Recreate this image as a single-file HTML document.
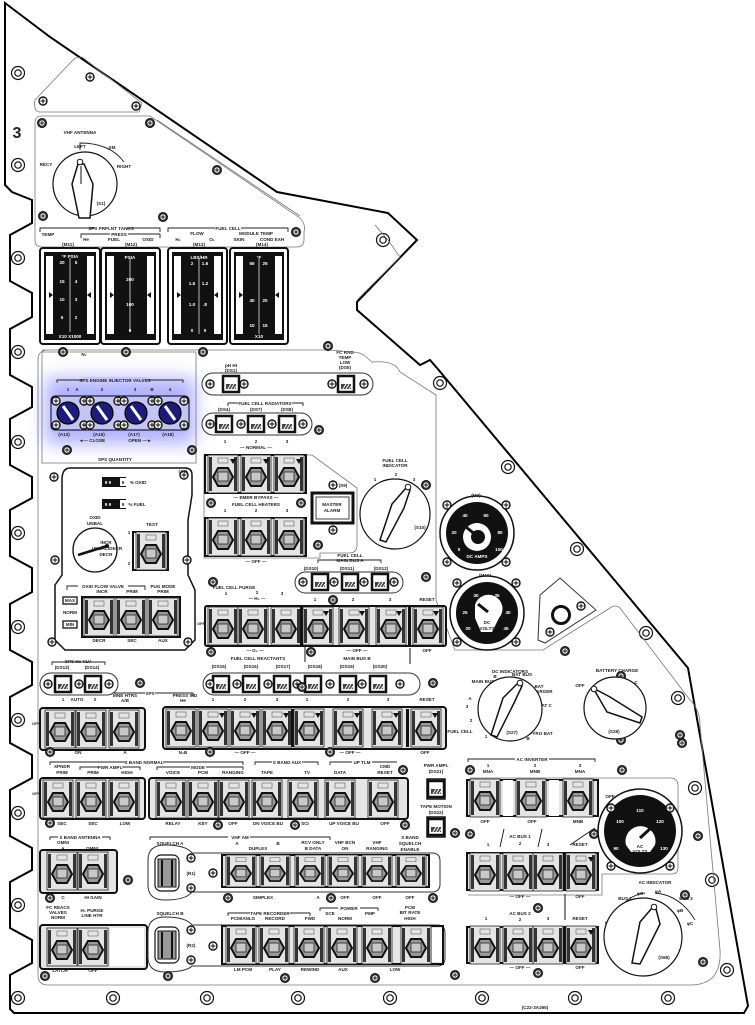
<!DOCTYPE html>
<html><head><meta charset="utf-8"><style>
html,body{margin:0;padding:0;background:#fff}
svg{display:block}
text{font-family:"Liberation Sans",sans-serif;font-size:4.6px;font-weight:bold;fill:#222;text-anchor:middle}
.w{fill:#fff}
.big{font-size:16px}
.thin{fill:none;stroke:#777;stroke-width:0.8}
.ln{fill:none;stroke:#222;stroke-width:0.9}
</style></head><body>
<svg width="755" height="1025" viewBox="0 0 755 1025" xmlns="http://www.w3.org/2000/svg">
<defs>
<filter id="blur" x="-30%" y="-30%" width="160%" height="160%"><feGaussianBlur stdDeviation="9"/></filter>
<g id="sw"><rect x="0" y="0" width="30" height="38" fill="#e4e4e4" stroke="#222" stroke-width="0.8"/><rect x="1" y="2" width="3" height="34" fill="#333"/><rect x="26" y="2" width="3" height="34" fill="#333"/><polygon points="5,22 10,13 20,13 25,22 20,31 10,31" fill="#9a9a9a" stroke="#111" stroke-width="2"/><rect x="10" y="17" width="10" height="9" fill="#c8c8c8" stroke="#222" stroke-width="0.8"/><rect x="10" y="3" width="10" height="5" fill="none" stroke="#444" stroke-width="0.5"/></g>
<g id="ds"><rect x="0" y="0" width="16" height="16" fill="#fff" stroke="#111" stroke-width="2.5"/><rect x="3" y="8" width="10" height="5" fill="#444"/><path d="M5,13 L8,8 M8,13 L11,8 M11,13 L13,10" stroke="#fff" stroke-width="1"/></g>
<g id="sc"><circle r="4" fill="#fff" stroke="#111" stroke-width="1.4"/><path d="M-2.5,0H2.5M0,-2.5V2.5" stroke="#111" stroke-width="1"/></g>
<g id="sd"><circle r="4.5" fill="#333" stroke="#111" stroke-width="1"/><circle r="2.6" fill="#fff"/><path d="M-2,0H2M0,-2V2" stroke="#111" stroke-width="0.9"/></g>
<g id="ho"><circle r="6.5" fill="#fff" stroke="#111" stroke-width="1.2"/><circle r="3.2" fill="none" stroke="#111" stroke-width="1.2"/></g>
<g id="tri"><polygon points="0,0 6,0 3,5" fill="#111"/></g>
</defs>

<!-- outer outline -->
<path d="M5,3 L50,37 L277,192 L388,213 L417,240 L357,302 L357,310 L420,365 L430,360 L437,368 L688,668 L748,1006 L744,1013 L14,1013 L10,1009 L10,1021 
M10,1009 L10,1020" fill="none" stroke="#000" stroke-width="0"/>
<path d="M5,3 L50,37 L277,192 L388,213 L417,240 L357,302 L357,310 L420,365 L430,360 L437,368 L688,668 L748,1006 L744,1013 L14,1013 L10,1009 L10,975 L32,963 L32,940 L10,928 L10,882 L32,870 L32,848 L10,836 L10,790 L32,778 L32,755 L10,743 L10,697 L32,685 L32,662 L10,650 L10,604 L32,592 L32,568 L10,556 L10,510 L32,498 L32,477 L10,465 L10,419 L32,407 L32,387 L10,375 L10,329 L32,317 L32,293 L10,281 L10,235 L32,223 L32,200 L12,192 L5,185 Z" fill="#fff" stroke="#000" stroke-width="2"/>

<!-- left holes -->
<use href="#ho" x="18" y="73"/><use href="#ho" x="18" y="165"/><use href="#ho" x="18" y="258"/><use href="#ho" x="18" y="352"/><use href="#ho" x="18" y="442"/><use href="#ho" x="18" y="533"/><use href="#ho" x="18" y="627"/><use href="#ho" x="18" y="720"/><use href="#ho" x="18" y="813"/><use href="#ho" x="18" y="905"/><use href="#ho" x="18" y="998"/>
<use href="#ho" x="113" y="998"/><use href="#ho" x="207" y="998"/><use href="#ho" x="298" y="998"/><use href="#ho" x="390" y="998"/><use href="#ho" x="482" y="998"/><use href="#ho" x="575" y="998"/><use href="#ho" x="668" y="998"/>
<use href="#ho" x="727" y="970"/><use href="#ho" x="712" y="880"/><use href="#ho" x="695" y="788"/><use href="#ho" x="678" y="698"/>
<use href="#ho" x="646" y="633"/><use href="#ho" x="577" y="549"/><use href="#ho" x="508" y="467"/><use href="#ho" x="440" y="383"/><use href="#ho" x="383" y="240"/>

<!-- top plates -->
<text x="17" y="138" class="big" style="font-size:16px">3</text>
<path d="M35,100 L75,58 L82,57 L142,103 L139,112 L40,112 Q33,112 35,100Z" class="thin" stroke="#555"/>
<use href="#sc" x="43" y="101"/><use href="#sc" x="90" y="77"/><use href="#sc" x="136" y="106"/>
<path d="M42,116 H150 L300,218 Q306,224 304,232 V240 Q304,247 296,247 H42 Q35,247 35,240 V123 Q35,116 42,116Z" class="thin" stroke="#444"/>
<path d="M157,120 L300,216" class="thin"/>
<path d="M357,300 L400,257 L388,240 L375,225" class="thin"/>
<use href="#sd" x="42" y="123"/><use href="#sd" x="150" y="123"/><use href="#sd" x="217" y="170"/><use href="#sd" x="43" y="216"/><use href="#sd" x="163" y="217"/><use href="#sd" x="296" y="232"/>
<text x="80" y="134">VHF ANTENNA</text>
<text x="80" y="148">LEFT</text><text x="112" y="149">SM</text><text x="124" y="168">RIGHT</text><text x="46" y="166">RECY</text>
<path d="M80,150 V143 Q110,143 124,162" class="ln"/>
<circle cx="85" cy="184" r="32" fill="#fff" stroke="#111" stroke-width="1.2"/>
<polygon points="78,164 72,184 79,218 90,218 93,184 84,164" fill="#fff" stroke="#111" stroke-width="1.5"/>
<line x1="81" y1="166" x2="81" y2="184" stroke="#111"/><circle cx="80" cy="162" r="2.8" fill="#fff" stroke="#111"/>
<text x="101" y="205">(S1)</text>
<path d="M40,232 V228 H160 V232 M81,238 V234 H160 V238 M168,232 V228 H288 V232" class="ln"/>
<rect x="95" y="225" width="32" height="5" fill="#fff"/><text x="111" y="230">SPS PRPLNT TANKS</text>
<rect x="110" y="231" width="18" height="5" fill="#fff"/><text x="119" y="236">PRESS</text>
<rect x="215" y="225" width="26" height="5" fill="#fff"/><text x="228" y="230">FUEL CELL</text>
<text x="48" y="236">TEMP</text><text x="86" y="241">He</text><text x="114" y="241">FUEL</text><text x="148" y="241">OXID</text>
<text x="197" y="235">FLOW</text><text x="256" y="235">MODULE TEMP</text>
<text x="178" y="241">H₂</text><text x="212" y="241">O₂</text><text x="239" y="241">SKIN</text><text x="272" y="241">COND EXH</text>
<text x="68" y="246">(M11)</text><text x="131" y="246">(M12)</text><text x="199" y="246">(M13)</text><text x="262" y="246">(M14)</text>

<!-- meters -->
<g>
<rect x="40" y="248" width="60" height="96" rx="3" fill="#fff" stroke="#111" stroke-width="2"/><rect x="44" y="252" width="52" height="88" fill="#111"/><rect x="46" y="256" width="7" height="78" fill="#fff"/><rect x="87" y="256" width="7" height="78" fill="#fff"/><line x1="70" y1="258" x2="70" y2="332" stroke="#fff" stroke-width="0.7"/>
<rect x="101" y="248" width="59" height="96" rx="3" fill="#fff" stroke="#111" stroke-width="2"/><rect x="105" y="252" width="51" height="88" fill="#111"/><rect x="107" y="256" width="7" height="78" fill="#fff"/><rect x="147" y="256" width="7" height="78" fill="#fff"/><line x1="130" y1="258" x2="130" y2="332" stroke="#fff" stroke-width="0.7"/>
<rect x="168" y="248" width="59" height="96" rx="3" fill="#fff" stroke="#111" stroke-width="2"/><rect x="172" y="252" width="51" height="88" fill="#111"/><rect x="174" y="256" width="7" height="78" fill="#fff"/><rect x="214" y="256" width="7" height="78" fill="#fff"/><line x1="199" y1="258" x2="199" y2="334" stroke="#fff" stroke-width="0.7"/>
<rect x="230" y="248" width="58" height="96" rx="3" fill="#fff" stroke="#111" stroke-width="2"/><rect x="234" y="252" width="50" height="88" fill="#111"/><rect x="236" y="256" width="7" height="78" fill="#fff"/><rect x="275" y="256" width="7" height="78" fill="#fff"/><line x1="259" y1="258" x2="259" y2="334" stroke="#fff" stroke-width="0.7"/>
<polygon points="53,295 49,292 49,298" fill="#111"/><polygon points="87,295 91,292 91,298" fill="#111"/>
<polygon points="114,295 110,292 110,298" fill="#111"/><polygon points="147,295 151,292 151,298" fill="#111"/>
<polygon points="181,295 177,292 177,298" fill="#111"/><polygon points="214,295 218,292 218,298" fill="#111"/>
<polygon points="243,295 239,292 239,298" fill="#111"/><polygon points="275,295 279,292 279,298" fill="#111"/>
<text class="w" x="70" y="258">°F  PSIA</text><text class="w" x="62" y="264">20</text><text class="w" x="76" y="264">5</text><text class="w" x="62" y="283">15</text><text class="w" x="76" y="283">4</text><text class="w" x="62" y="301">10</text><text class="w" x="76" y="301">3</text><text class="w" x="62" y="319">5</text><text class="w" x="76" y="319">2</text><text class="w" x="70" y="338">X10 X1000</text>
<text class="w" x="130" y="259">PSIA</text><text class="w" x="130" y="281">200</text><text class="w" x="130" y="306">100</text><text class="w" x="130" y="332">0</text>
<text class="w" x="199" y="259">LBS/HR</text><text class="w" x="192" y="265">2</text><text class="w" x="205" y="265">1.6</text><text class="w" x="192" y="285">1.5</text><text class="w" x="205" y="285">1.2</text><text class="w" x="192" y="306">1.0</text><text class="w" x="205" y="306">.8</text><text class="w" x="192" y="332">0</text><text class="w" x="205" y="332">0</text>
<text class="w" x="259" y="259">°F</text><text class="w" x="252" y="265">55</text><text class="w" x="265" y="265">25</text><text class="w" x="252" y="302">40</text><text class="w" x="265" y="302">20</text><text class="w" x="252" y="327">10</text><text class="w" x="265" y="327">15</text><text class="w" x="259" y="338">X10</text>
</g>

<!-- central panel borders -->
<path d="M42,350 H330 L352,352 Q360,352 365,356 L372,362 Q395,360 400,372 L436,395 V600 L455,650 H543 L610,608 Q615,604 620,608 L690,700 Q700,710 700,725 L720,950 Q722,985 690,985 H48 Q38,985 38,975 V360 Q38,350 48,350" class="thin"/>
<path d="M42,352 H196 V463 H42 Z" class="thin" stroke="#aaa"/>
<text x="84" y="356">N₂</text>
<use href="#sd" x="63" y="352"/><use href="#sd" x="126" y="352"/><use href="#sd" x="203" y="352"/><use href="#sd" x="328" y="346"/>
<!-- injector valves glow -->
<rect x="45" y="378" width="150" height="66" fill="#7070ff" opacity="0.55" filter="url(#blur)"/>
<path d="M57,383 V380 H183 V383" class="ln"/><rect x="83" y="377" width="64" height="6" fill="#c8c8ff"/>
<text x="115" y="382">SPS ENGINE INJECTOR VALVES</text>
<text x="68" y="391">1</text><text x="77" y="391">A</text><text x="102" y="391">2</text><text x="135" y="391">3</text><text x="152" y="391">B</text><text x="170" y="391">4</text>
<rect x="51" y="396" width="138" height="34" rx="4" fill="#c4c4f4" stroke="#224" stroke-width="1.2"/>
<g fill="#1c1c7a" stroke="#000" stroke-width="1.2">
<circle cx="68" cy="413" r="11"/><circle cx="102" cy="413" r="11"/><circle cx="136" cy="413" r="11"/><circle cx="170" cy="413" r="11"/></g>
<g stroke="#fff" stroke-width="3"><line x1="63" y1="406" x2="73" y2="420"/><line x1="97" y1="406" x2="107" y2="420"/><line x1="131" y1="406" x2="141" y2="420"/><line x1="165" y1="406" x2="175" y2="420"/></g>
<g><use href="#sc" x="56" y="401"/><use href="#sc" x="84" y="401"/><use href="#sc" x="90" y="401"/><use href="#sc" x="118" y="401"/><use href="#sc" x="124" y="401"/><use href="#sc" x="152" y="401"/><use href="#sc" x="158" y="401"/><use href="#sc" x="184" y="401"/>
<use href="#sc" x="56" y="425"/><use href="#sc" x="84" y="425"/><use href="#sc" x="90" y="425"/><use href="#sc" x="118" y="425"/><use href="#sc" x="124" y="425"/><use href="#sc" x="152" y="425"/><use href="#sc" x="158" y="425"/><use href="#sc" x="184" y="425"/></g>
<text x="64" y="436">(A13)</text><text x="99" y="436">(A15)</text><text x="134" y="436">(A17)</text><text x="168" y="436">(A18)</text>
<text x="92" y="442">◄— CLOSE</text><text x="140" y="442">OPEN —►</text>
<use href="#sd" x="67" y="450"/><use href="#sd" x="192" y="450"/>
<text x="115" y="461">SPS QUANTITY</text>

<!-- SPS quantity panel -->
<path d="M70,468 H185 Q192,468 192,475 V495 L188,520 V575 L195,590 V640 L185,650 H65 L55,640 V585 L62,575 V480 Q62,468 70,468Z" fill="#fff" stroke="#111" stroke-width="1.5"/>
<use href="#sc" x="54" y="477"/><use href="#sc" x="184" y="475"/><use href="#sc" x="55" y="560"/><use href="#sc" x="187" y="560"/><use href="#sc" x="52" y="642"/><use href="#sc" x="188" y="642"/>
<text x="183" y="473">(A1)</text>
<rect x="102" y="477" width="24" height="10" fill="#111"/><rect x="120" y="478" width="6" height="8" fill="#fff"/><text x="108" y="484" class="w">9 9</text><text x="123" y="484">9</text><text x="138" y="484">% OXID</text>
<rect x="102" y="499" width="24" height="10" fill="#111"/><rect x="120" y="500" width="6" height="8" fill="#fff"/><text x="108" y="506" class="w">9 9</text><text x="123" y="506">9</text><text x="137" y="506">% FUEL</text>
<text x="95" y="519">OXID</text><text x="95" y="525">UNBAL</text>
<circle cx="95" cy="550" r="22" fill="#fff" stroke="#111" stroke-width="1.3"/>
<line x1="78" y1="555" x2="107" y2="546" stroke="#111" stroke-width="2.5"/><circle cx="107" cy="546" r="2" fill="#111"/>
<text x="106" y="544">INCR</text><text x="107" y="550">UNBAL/DECR</text><text x="106" y="556">DECR</text>
<text x="152" y="526">TEST</text><text x="129" y="534">1</text><text x="129" y="565">2</text>
<rect x="133" y="532" width="35" height="38" fill="#fff" stroke="#111" stroke-width="2"/><use href="#sw" x="136" y="532"/>
<path d="M67,590 V586 H145 V590" class="ln"/><rect x="78" y="583" width="50" height="6" fill="#fff"/><text x="103" y="588">OXID FLOW VALVE</text>
<text x="102" y="593">INCR</text><text x="132" y="593">PRIM</text><text x="163" y="588">PUG MODE</text><text x="163" y="593">PRIM</text>
<rect x="63" y="597" width="14" height="7" fill="#fff" stroke="#111" stroke-width="1.3"/><text x="70" y="602">MAX</text>
<text x="70" y="614">NORM</text>
<rect x="63" y="621" width="14" height="7" fill="#fff" stroke="#111" stroke-width="1.3"/><text x="70" y="626">MIN</text>
<rect x="82" y="597" width="98" height="40" fill="#e4e4e4" stroke="#111" stroke-width="2"/>
<use href="#sw" x="84" y="598"/><use href="#sw" x="116" y="598"/><use href="#sw" x="148" y="598"/>
<text x="99" y="642">DECR</text><text x="132" y="642">SEC</text><text x="163" y="642">AUX</text>

<!-- DS bars top -->
<text x="231" y="367">pH HI</text><text x="231" y="372">(DS1)</text>
<text x="345" y="354">FC RAD</text><text x="345" y="359">TEMP</text><text x="345" y="364">LOW</text><text x="345" y="369">(DS5)</text>
<rect x="202" y="373" width="171" height="22" rx="11" fill="#fff" stroke="#333" stroke-width="1"/>
<use href="#ds" x="223" y="376"/><use href="#sc" x="210" y="384"/><use href="#sc" x="244" y="384"/><use href="#ds" x="338" y="376"/><use href="#sc" x="332" y="384"/><use href="#sc" x="364" y="384"/>
<path d="M228,406 V403 H303 V406" class="ln"/><rect x="238" y="400" width="54" height="6" fill="#fff"/><text x="265" y="405">FUEL CELL RADIATORS</text>
<text x="224" y="411">(DS4)</text><text x="256" y="411">(DS7)</text><text x="287" y="411">(DS8)</text>
<rect x="202" y="413" width="110" height="22" rx="11" fill="#fff" stroke="#333" stroke-width="1"/>
<use href="#ds" x="216" y="416"/><use href="#ds" x="248" y="416"/><use href="#ds" x="279" y="416"/>
<use href="#sc" x="210" y="424"/><use href="#sc" x="241" y="424"/><use href="#sc" x="272" y="424"/><use href="#sc" x="303" y="424"/>
<use href="#sd" x="319" y="430"/>
<text x="225" y="443">1</text><text x="256" y="443">2</text><text x="287" y="443">3</text><text x="256" y="449">— NORMAL —</text>

<!-- row A -->
<path d="M204,455 H312 L357,488 V545 Q357,553 349,553 H320 V558 H204Z" class="thin"/>
<rect x="205" y="455" width="101" height="38" fill="#e4e4e4" stroke="#111" stroke-width="2"/>
<use href="#sw" x="208" y="455"/><use href="#sw" x="241" y="455"/><use href="#sw" x="274" y="455"/>
<use href="#tri" x="230" y="459"/><use href="#tri" x="263" y="459"/><use href="#tri" x="296" y="459"/>
<text x="256" y="499">— EMER BYPASS —</text><text x="256" y="506">FUEL CELL HEATERS</text>
<text x="225" y="512">1</text><text x="256" y="512">2</text><text x="287" y="512">3</text>
<use href="#sd" x="211" y="503"/><use href="#sd" x="301" y="503"/>
<rect x="205" y="518" width="101" height="38" fill="#e4e4e4" stroke="#111" stroke-width="2"/>
<use href="#sw" x="208" y="518"/><use href="#sw" x="241" y="518"/><use href="#sw" x="274" y="518"/>
<text x="256" y="563">— OFF —</text>
<rect x="312" y="493" width="41" height="30" fill="#fff" stroke="#111" stroke-width="3"/><rect x="316" y="497" width="33" height="22" fill="none" stroke="#111" stroke-width="0.8"/>
<text x="332" y="506">MASTER</text><text x="332" y="512">ALARM</text>
<use href="#sc" x="333" y="485"/><text x="343" y="487">(S9)</text><use href="#sc" x="333" y="530"/><use href="#sd" x="318" y="545"/>
<!-- FC indicator -->
<text x="395" y="462">FUEL CELL</text><text x="395" y="467">INDICATOR</text>
<text x="375" y="481">1</text><text x="396" y="476">2</text><text x="414" y="481">3</text>
<circle cx="395" cy="514" r="35" fill="#fff" stroke="#111" stroke-width="1.2"/>
<polygon points="406,488 392,504 380,540 386,542 404,508 410,490" fill="#fff" stroke="#111" stroke-width="1.5"/>
<circle cx="408" cy="487" r="2.8" fill="#fff" stroke="#111"/><text x="420" y="529">(S10)</text>
<use href="#sd" x="426" y="485"/>

<!-- DC meters -->
<circle cx="477" cy="533" r="37" fill="#fff" stroke="#111" stroke-width="1.5"/><circle cx="477" cy="533" r="31" fill="#111"/>
<circle cx="477" cy="537" r="14" fill="#fff"/><circle cx="478" cy="537" r="7" fill="#111"/><line x1="466" y1="527" x2="477" y2="536" stroke="#111" stroke-width="3"/>
<text class="w" x="465" y="517">40</text><text class="w" x="486" y="517">60</text><text class="w" x="454" y="534">20</text><text class="w" x="500" y="534">80</text><text class="w" x="459" y="551">0</text><text class="w" x="499" y="551">100</text><text class="w" x="477" y="558">DC AMPS</text>
<text x="476" y="497">(M9)</text>
<use href="#sc" x="447" y="505"/><use href="#sc" x="506" y="505"/><use href="#sc" x="447" y="562"/><use href="#sc" x="506" y="562"/>
<text x="485" y="577">(M10)</text>
<circle cx="487" cy="613" r="37" fill="#fff" stroke="#111" stroke-width="1.5"/><circle cx="487" cy="613" r="31" fill="#111"/>
<path d="M475,605 A14,14 0 1,1 499,618 L492,632 H481 L475,618Z" fill="#fff"/><line x1="478" y1="604" x2="488" y2="612" stroke="#111" stroke-width="3"/>
<text class="w" x="476" y="597">30</text><text class="w" x="497" y="597">35</text><text class="w" x="465" y="614">25</text><text class="w" x="508" y="614">40</text><text class="w" x="468" y="630">20</text><text class="w" x="506" y="630">45</text><text x="487" y="624">DC</text><text x="487" y="630">VOLTS</text>
<use href="#sc" x="457" y="583"/><use href="#sc" x="516" y="583"/><use href="#sc" x="457" y="642"/><use href="#sc" x="516" y="642"/>
<polygon points="540,595 560,578 596,610 545,643 538,640" fill="#fff" stroke="#333" stroke-width="1"/>
<circle cx="561" cy="615" r="8.5" fill="none" stroke="#111" stroke-width="3"/><use href="#sc" x="581" y="606"/><use href="#sc" x="550" y="632"/>
<use href="#sd" x="565" y="651"/><use href="#sd" x="621" y="676"/><use href="#sd" x="621" y="740"/>

<!-- DS10-12 -->
<path d="M318,563 V560 H381 V563" class="ln"/><text x="350" y="557">FUEL CELL</text><text x="350" y="562">MAIN BUS A</text>
<text x="311" y="570">(DS10)</text><text x="347" y="570">(DS11)</text><text x="381" y="570">(DS12)</text>
<rect x="295" y="572" width="108" height="21" rx="10.5" fill="#fff" stroke="#333"/>
<use href="#ds" x="312" y="574"/><use href="#ds" x="342" y="574"/><use href="#ds" x="372" y="574"/>
<use href="#sc" x="303" y="582"/><use href="#sc" x="334" y="582"/><use href="#sc" x="364" y="582"/><use href="#sc" x="394" y="582"/>
<use href="#sd" x="213" y="582"/><use href="#sd" x="426" y="577"/><use href="#sd" x="333" y="600"/>
<text x="234" y="589">FUEL CELL PURGE</text><text x="226" y="595">1</text><text x="257" y="594">2</text><text x="282" y="595">3</text><text x="257" y="600">— H₂ —</text>
<text x="315" y="601">1</text><text x="353" y="601">2</text><text x="390" y="601">3</text><text x="427" y="601">RESET</text>

<!-- row B -->
<rect x="205" y="606" width="241" height="40" rx="2" fill="#e4e4e4" stroke="#111" stroke-width="2"/>
<use href="#sw" x="208" y="607"/><use href="#sw" x="238" y="607"/><rect x="269" y="607" width="33" height="38" fill="#fafafa"/><use href="#sw" x="271" y="607"/>
<rect x="300" y="607" width="3" height="38" fill="#111"/>
<use href="#sw" x="303" y="607"/><use href="#sw" x="339" y="607"/><use href="#sw" x="376" y="607"/><rect x="408" y="607" width="3" height="38" fill="#111"/><use href="#sw" x="413" y="607"/>
<use href="#tri" x="323" y="611"/><use href="#tri" x="359" y="611"/><use href="#tri" x="396" y="611"/><use href="#tri" x="433" y="611"/>
<text x="201" y="625" style="font-size:4px">OFF</text>
<use href="#sd" x="211" y="652"/><use href="#sd" x="311" y="652"/>
<text x="255" y="652">— O₂ —</text><text x="258" y="660">FUEL CELL REACTANTS</text><line x1="305" y1="646" x2="305" y2="662" stroke="#111"/>
<text x="357" y="652">— OFF —</text><text x="357" y="660">MAIN BUS B</text><line x1="410" y1="648" x2="410" y2="664" stroke="#111"/><text x="427" y="652">OFF</text>
<text x="219" y="668">(DS15)</text><text x="251" y="668">(DS16)</text><text x="283" y="668">(DS17)</text><text x="315" y="668">(DS18)</text><text x="347" y="668">(DS19)</text><text x="380" y="668">(DS20)</text>
<rect x="203" y="673" width="217" height="22" rx="11" fill="#fff" stroke="#333"/>
<use href="#ds" x="213" y="676"/><use href="#ds" x="243" y="676"/><use href="#ds" x="274" y="676"/><use href="#ds" x="305" y="676"/><use href="#ds" x="340" y="676"/><use href="#ds" x="370" y="676"/>
<use href="#sc" x="210" y="684"/><use href="#sc" x="237" y="684"/><use href="#sc" x="268" y="684"/><use href="#sc" x="297" y="684"/><use href="#sc" x="330" y="684"/><use href="#sc" x="362" y="684"/><use href="#sc" x="400" y="684"/>
<use href="#sd" x="433" y="683"/><use href="#sd" x="140" y="683"/>
<path d="M52,665 V662 H105 V665" class="ln"/><text x="78" y="663">SPS He VLV</text><text x="62" y="669">(DS13)</text><text x="92" y="669">(DS14)</text>
<rect x="40" y="673" width="78" height="22" rx="11" fill="#fff" stroke="#333"/>
<use href="#ds" x="55" y="676"/><use href="#ds" x="85" y="676"/><use href="#sc" x="48" y="684"/><use href="#sc" x="79" y="684"/><use href="#sc" x="109" y="684"/>

<!-- DC indicators & battery charge -->
<text x="510" y="673">DC INDICATORS</text>
<text x="483" y="683">MAIN BUS</text><text x="495" y="678">B</text><text x="505" y="680">A</text><text x="522" y="676">BAT BUS</text><text x="525" y="684">B</text>
<text x="539" y="688">BAT</text><text x="541" y="693">CHARGER</text><text x="545" y="707">BAT C</text><text x="541" y="735">PYRO BAT</text><text x="533" y="731">A</text><text x="528" y="740">B</text>
<text x="470" y="700">A</text><text x="467" y="708">3</text><text x="471" y="722">2</text><text x="460" y="733">FUEL CELL</text><text x="486" y="738">1</text>
<circle cx="510" cy="709" r="32" fill="#fff" stroke="#111" stroke-width="1.2"/>
<polygon points="518,683 503,698 491,735 497,737 514,703 522,686" fill="#fff" stroke="#111" stroke-width="1.5"/><circle cx="520" cy="683" r="2.8" fill="#fff" stroke="#111"/>
<text x="512" y="734">(S27)</text>
<text x="617" y="672">BATTERY CHARGE</text><text x="599" y="684">A</text><text x="617" y="680">B</text><text x="636" y="684">C</text><text x="580" y="687">OFF</text>
<circle cx="615" cy="708" r="31" fill="#fff" stroke="#111" stroke-width="1.2"/>
<polygon points="595,689 610,697 642,717 640,723 607,712 596,693" fill="#fff" stroke="#111" stroke-width="1.5"/><circle cx="594" cy="689" r="2.8" fill="#fff" stroke="#111"/>
<text x="614" y="733">(S28)</text>

<!-- row C -->
<text x="63" y="701">1</text><text x="77" y="701">AUTO</text><text x="95" y="701">2</text>
<path d="M115,696 V693 H193 V696" class="ln"/><rect x="145" y="690" width="10" height="5" fill="#fff"/><text x="150" y="695">SPS</text>
<text x="125" y="697">LINE HTRS</text><text x="125" y="702">A/B</text><text x="185" y="697">PRESS IND</text><text x="183" y="702">He</text>
<text x="213" y="701">1</text><text x="245" y="701">2</text><text x="277" y="701">3</text><text x="307" y="701">1</text><text x="348" y="701">2</text><text x="388" y="701">3</text><text x="427" y="701">RESET</text>
<rect x="40" y="708" width="105" height="42" rx="3" fill="#e4e4e4" stroke="#111" stroke-width="2"/>
<use href="#sw" x="45" y="710"/><use href="#sw" x="76" y="710"/><use href="#sw" x="109" y="710"/>
<text x="36" y="725" style="font-size:4px">OFF</text>
<text x="165" y="722">N₂</text><text x="165" y="728">A</text>
<rect x="163" y="707" width="283" height="42" rx="3" fill="#e4e4e4" stroke="#111" stroke-width="2"/>
<use href="#sw" x="166" y="709"/><use href="#sw" x="198" y="709"/><use href="#sw" x="230" y="709"/><use href="#sw" x="262" y="709"/><rect x="291" y="709" width="3" height="38" fill="#111"/><use href="#sw" x="294" y="709"/>
<use href="#sw" x="333" y="709"/><use href="#sw" x="372" y="709"/><rect x="406" y="709" width="3" height="38" fill="#111"/><use href="#sw" x="411" y="709"/>
<use href="#tri" x="219" y="713"/><use href="#tri" x="251" y="713"/><use href="#tri" x="283" y="713"/><use href="#tri" x="315" y="713"/><use href="#tri" x="354" y="713"/><use href="#tri" x="393" y="713"/><use href="#tri" x="432" y="713"/>
<use href="#sd" x="50" y="752"/><text x="78" y="754">ON</text><text x="125" y="754">A</text><text x="183" y="754">N₂B</text><use href="#sd" x="210" y="752"/><text x="245" y="754">— OFF —</text><use href="#sd" x="330" y="752"/><text x="350" y="754">— OFF —</text><text x="425" y="754">OFF</text>
<use href="#sd" x="302" y="687"/>

<!-- row D -->
<path d="M50,765 V762 H243 V765 M80,770 V767 H140 V770 M157,770 V767 H243 V770 M255,765 V762 H318 V765 M330,765 V762 H397" class="ln"/>
<rect x="125" y="759" width="38" height="6" fill="#fff"/><text x="144" y="764">S BAND NORMAL</text>
<rect x="98" y="764" width="24" height="6" fill="#fff"/><text x="110" y="769">PWR AMPL</text>
<rect x="190" y="764" width="16" height="6" fill="#fff"/><text x="198" y="769">MODE</text>
<rect x="272" y="759" width="30" height="6" fill="#fff"/><text x="287" y="764">S BAND AUX</text>
<rect x="352" y="759" width="20" height="6" fill="#fff"/><text x="362" y="764">UP TLM</text>
<text x="62" y="768">XPNDR</text><text x="62" y="774">PRIM</text><text x="93" y="774">PRIM</text><text x="127" y="774">HIGH</text>
<text x="173" y="774">VOICE</text><text x="203" y="774">PCM</text><text x="233" y="774">RANGING</text><text x="267" y="774">TAPE</text><text x="307" y="774">TV</text><text x="340" y="774">DATA</text><text x="385" y="768">CMD</text><text x="385" y="774">RESET</text>
<use href="#sd" x="403" y="770"/>
<rect x="40" y="778" width="105" height="41" rx="3" fill="#e4e4e4" stroke="#111" stroke-width="2"/>
<use href="#sw" x="43" y="780"/><use href="#sw" x="76" y="780"/><use href="#sw" x="109" y="780"/>
<text x="36" y="795" style="font-size:4px">OFF</text>
<rect x="149" y="778" width="259" height="41" rx="3" fill="#e4e4e4" stroke="#111" stroke-width="2"/>
<use href="#sw" x="156" y="780"/><use href="#sw" x="188" y="780"/><use href="#sw" x="219" y="780"/><use href="#sw" x="252" y="780"/><use href="#sw" x="288" y="780"/><use href="#sw" x="325" y="780"/><use href="#sw" x="368" y="780"/>
<use href="#sd" x="50" y="823"/><text x="62" y="825">SEC</text><text x="93" y="825">SEC</text><text x="125" y="825">LOW</text><text x="173" y="825">RELAY</text><text x="203" y="825">KEY</text><use href="#sd" x="218" y="825"/><text x="233" y="825">OFF</text><text x="268" y="825">DN VOICE BU</text><use href="#sd" x="295" y="825"/><text x="305" y="825">SCI</text><text x="344" y="825">UP VOICE BU</text><text x="385" y="825">OFF</text><use href="#sd" x="405" y="825"/>
<text x="436" y="767">PWR AMPL</text><text x="436" y="773">(DS21)</text>
<rect x="427" y="779" width="18" height="20" fill="#ccc" stroke="#111" stroke-width="1.5"/><use href="#ds" x="428" y="781"/>
<text x="436" y="808">TAPE MOTION</text><text x="436" y="814">(DS22)</text>
<rect x="427" y="817" width="18" height="20" fill="#ccc" stroke="#111" stroke-width="1.5"/><use href="#ds" x="428" y="819"/>
<use href="#sd" x="455" y="833"/>

<!-- row E -->
<path d="M50,840 V837 H110 V840 M150,840 V837 H330 V840" class="ln"/>
<rect x="58" y="834" width="44" height="6" fill="#fff"/><text x="80" y="839">S BAND ANTENNA</text>
<rect x="228" y="834" width="22" height="6" fill="#fff"/><text x="240" y="839">VHF AM</text>
<text x="63" y="844">OMNI</text><text x="63" y="850">A</text><text x="92" y="850">OMNI</text>
<text x="170" y="845">SQUELCH A</text><text x="237" y="845">A</text><text x="278" y="845">B</text><text x="258" y="850">DUPLEX</text>
<text x="313" y="844">RCV ONLY</text><text x="313" y="850">B DATA</text><text x="345" y="844">VHF BCN</text><text x="345" y="850">ON</text><text x="377" y="844">VHF</text><text x="377" y="850">RANGING</text>
<text x="410" y="839">S BAND</text><text x="410" y="845">SQUELCH</text><text x="410" y="851">ENABLE</text>
<rect x="40" y="850" width="77" height="43" rx="3" fill="#e4e4e4" stroke="#111" stroke-width="2"/>
<use href="#sw" x="47" y="852"/><use href="#sw" x="78" y="852"/><use href="#sd" x="128" y="880"/>
<path d="M165,845 Q186,845 192,853 H432 Q440,853 440,861 V884 Q440,892 432,892 H192 Q186,900 165,900 Q148,900 148,885 V860 Q148,845 165,845Z" fill="#fff" stroke="#333" stroke-width="1"/>
<rect x="155" y="855" width="24" height="36" rx="6" fill="#fff" stroke="#111" stroke-width="1.2"/><rect x="158" y="859" width="18" height="28" fill="#999" stroke="#111"/><path d="M162,860 V886 M172,860 V886" stroke="#111" stroke-width="2"/>
<use href="#sc" x="191" y="858"/><use href="#sc" x="191" y="888"/><text x="191" y="875">(R1)</text><use href="#sc" x="213" y="873"/>
<rect x="222" y="855" width="207" height="32" fill="#e4e4e4" stroke="#111" stroke-width="2"/>
<g transform="translate(0,855) scale(1,0.84)"><use href="#sw" x="226" y="0"/><use href="#sw" x="260" y="0"/><use href="#sw" x="295" y="0"/><use href="#sw" x="328" y="0"/><use href="#sw" x="362" y="0"/><use href="#sw" x="396" y="0"/></g>
<text x="63" y="899">C</text><text x="93" y="899">HI GAIN</text><use href="#sd" x="50" y="898"/>
<use href="#sd" x="228" y="898"/><text x="263" y="899">SIMPLEX</text><text x="318" y="899">A</text><use href="#sd" x="331" y="898"/><text x="345" y="899">OFF</text><text x="377" y="899">OFF</text><text x="410" y="899">OFF</text><use href="#sd" x="433" y="898"/>

<!-- row F -->
<text x="58" y="909">FC REACS</text><text x="58" y="914">VALVES</text><text x="58" y="919">NORM</text><text x="92" y="912">H₂ PURGE</text><text x="92" y="917">LINE HTR</text>
<text x="170" y="915">SQUELCH B</text>
<path d="M228,916 V913 H310 V916 M320,911 V908 H378 V911" class="ln"/>
<rect x="250" y="910" width="40" height="6" fill="#fff"/><text x="270" y="915">TAPE RECORDER</text><rect x="338" y="905" width="22" height="6" fill="#fff"/><text x="349" y="910">POWER</text>
<text x="243" y="920">PCM/ANLG</text><text x="275" y="920">RECORD</text><text x="310" y="920">FWD</text><text x="330" y="915">SCE</text><text x="370" y="915">PMP</text><text x="345" y="920">NORM</text>
<text x="410" y="909">PCM</text><text x="410" y="914">BIT RATE</text><text x="410" y="920">HIGH</text>
<rect x="40" y="925" width="107" height="44" rx="3" fill="#e4e4e4" stroke="#111" stroke-width="2"/>
<use href="#sw" x="47" y="928"/><use href="#sw" x="78" y="928"/><rect x="110" y="928" width="34" height="38" fill="#fff"/>
<path d="M165,917 Q186,917 192,925 H437 Q445,925 445,933 V958 Q445,966 437,966 H192 Q186,972 165,972 Q148,972 148,957 V932 Q148,917 165,917Z" fill="#fff" stroke="#333" stroke-width="1"/>
<rect x="155" y="927" width="24" height="36" rx="6" fill="#fff" stroke="#111" stroke-width="1.2"/><rect x="158" y="931" width="18" height="28" fill="#999" stroke="#111"/><path d="M162,932 V958 M172,932 V958" stroke="#111" stroke-width="2"/>
<use href="#sc" x="191" y="930"/><use href="#sc" x="191" y="960"/><text x="191" y="947">(R2)</text><use href="#sc" x="213" y="946"/>
<rect x="222" y="926" width="221" height="38" fill="#e4e4e4" stroke="#111" stroke-width="2"/>
<use href="#sw" x="226" y="926"/><use href="#sw" x="259" y="926"/><use href="#sw" x="294" y="926"/><use href="#sw" x="327" y="926"/><use href="#sw" x="362" y="926"/><use href="#sw" x="401" y="926"/><rect x="432" y="928" width="10" height="34" fill="#fff"/>
<text x="60" y="972">LATCH</text><text x="93" y="972">OFF</text><use href="#sd" x="45" y="976"/><use href="#sd" x="168" y="976"/>
<text x="243" y="971">LM PCM</text><text x="275" y="971">PLAY</text><text x="310" y="971">REWIND</text><text x="343" y="971">AUX</text><text x="395" y="971">LOW</text>
<use href="#sd" x="285" y="978"/><use href="#sd" x="375" y="978"/><use href="#sd" x="455" y="975"/>

<!-- AC section -->
<path d="M468,762 V759 H595 V762" class="ln"/><rect x="515" y="756" width="34" height="6" fill="#fff"/><text x="532" y="761">AC INVERTER</text>
<text x="488" y="767">1</text><text x="488" y="773">MNA</text><text x="535" y="767">2</text><text x="535" y="773">MNB</text><text x="580" y="767">3</text><text x="580" y="773">MNA</text>
<use href="#sd" x="470" y="770"/><use href="#sd" x="622" y="770"/>
<path d="M470,778 H670 Q678,778 678,786 V868 Q678,874 672,874 H602 V895 H468" class="thin"/>
<rect x="467" y="780" width="131" height="36" fill="#e4e4e4" stroke="#111" stroke-width="2"/>
<use href="#sw" x="470" y="779"/><rect x="503" y="780" width="10" height="36" fill="#fff"/><use href="#sw" x="516" y="779"/><rect x="549" y="780" width="10" height="36" fill="#fff"/><use href="#sw" x="563" y="779"/>
<text x="610" y="798">OFF</text>
<text x="485" y="823">OFF</text><text x="532" y="823">OFF</text><text x="578" y="823">MNB</text>
<use href="#sd" x="470" y="834"/><use href="#sd" x="594" y="834"/>
<path d="M500,847 L504,829 M538,847 L542,829 M570,845 L595,828" stroke="#111" stroke-width="0.9"/>
<text x="488" y="846">1</text><text x="520" y="838">AC BUS 1</text><text x="520" y="845">2</text><text x="548" y="846">3</text><text x="580" y="846">RESET</text>
<rect x="467" y="853" width="131" height="37" fill="#e4e4e4" stroke="#111" stroke-width="2"/>
<use href="#sw" x="470" y="853"/><use href="#sw" x="503" y="853"/><use href="#sw" x="533" y="853"/><rect x="563" y="853" width="3" height="37" fill="#111"/><use href="#sw" x="566" y="853"/><use href="#tri" x="588" y="857"/>
<text x="520" y="898">— OFF —</text><text x="580" y="898">OFF</text><line x1="565" y1="894" x2="565" y2="920" stroke="#111"/>
<use href="#sd" x="538" y="908"/><text x="520" y="915">AC BUS 2</text><text x="486" y="920">1</text><text x="520" y="921">2</text><text x="548" y="920">3</text><text x="580" y="920">RESET</text>
<rect x="467" y="927" width="131" height="36" fill="#e4e4e4" stroke="#111" stroke-width="2"/>
<use href="#sw" x="470" y="926"/><use href="#sw" x="503" y="926"/><use href="#sw" x="533" y="926"/><rect x="563" y="927" width="3" height="36" fill="#111"/><use href="#sw" x="566" y="926"/><use href="#tri" x="588" y="930"/>
<text x="520" y="969">— OFF —</text><text x="580" y="969">OFF</text><use href="#sd" x="538" y="973"/>
<!-- AC volts -->
<text x="640" y="801">(M11)</text>
<circle cx="640" cy="831" r="42" fill="#fff" stroke="#111" stroke-width="1.5"/><circle cx="640" cy="831" r="36" fill="#111"/>
<path d="M626,845 A15,15 0 1,1 655,845 L650,852 H631Z" fill="#fff"/><line x1="640" y1="838" x2="652" y2="827" stroke="#111" stroke-width="3"/>
<text class="w" x="640" y="812">110</text><text class="w" x="620" y="823">100</text><text class="w" x="660" y="823">120</text><text class="w" x="616" y="850">90</text><text class="w" x="664" y="850">130</text>
<text x="640" y="848">AC</text><text x="640" y="853">VOLTS</text>
<use href="#sc" x="611" y="808"/><use href="#sc" x="670" y="808"/><use href="#sc" x="611" y="866"/><use href="#sc" x="670" y="866"/>
<use href="#sd" x="698" y="836"/><use href="#sd" x="680" y="735"/><use href="#sd" x="685" y="895"/><use href="#sd" x="703" y="962"/><use href="#sd" x="682" y="743"/>
<!-- AC indicator -->
<text x="655" y="884">AC INDICATOR</text>
<text x="625" y="900">BUS 1</text><text x="686" y="900">BUS 2</text><text x="640" y="895">φC</text><text x="658" y="893">φA</text><text x="620" y="912">φB</text><text x="608" y="924">φA</text><text x="680" y="912">φB</text><text x="690" y="925">φC</text>
<path d="M612,920 Q625,895 645,893 M655,893 Q680,895 695,920" class="ln"/>
<circle cx="643" cy="937" r="39" fill="#fff" stroke="#111" stroke-width="1.2"/>
<polygon points="652,908 640,922 632,963 640,964 660,924 656,909" fill="#fff" stroke="#111" stroke-width="1.5"/><circle cx="654" cy="907" r="2.8" fill="#fff" stroke="#111"/>
<text x="664" y="959">(S68)</text>

<text x="535" y="1009">(C22-3A265)</text>
</svg>
</body></html>
